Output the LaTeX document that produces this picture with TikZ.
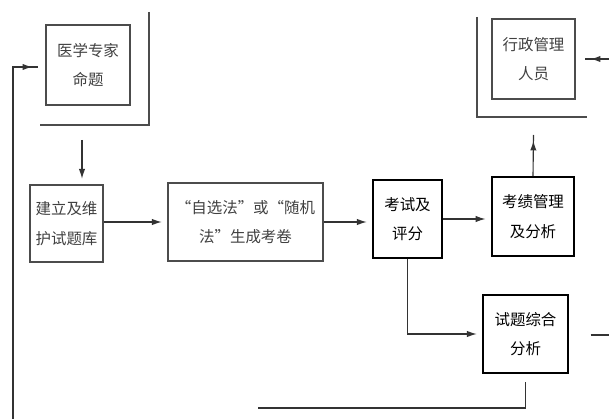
\documentclass[tikz,border=0pt]{standalone}
\usepackage{fontspec}
\newfontfamily\cjk{Noto Sans CJK SC}
\usetikzlibrary{arrows.meta,decorations.markings}
\tikzset{
myBox/.style={
	rectangle,draw=black!70,thick,
	inner sep=0pt,align=center,text=black!75,
	font=\cjk\fontsize{11}{21}\selectfont
}
, myDarkBox/.style={
	myBox,draw=black,very thick,text=black
}
, myFrame/.style={draw=black!70,thick}
% link
, myLine/.style={draw=black!80,thick}
, myArrow/.style={myLine,postaction={decorate},
	decoration={markings,mark=at position -4pt with {\arrow{Latex[length=7pt,width=4.5pt]}}}
}
}
\begin{document}
\begin{tikzpicture}[x=0.025cm,y=-0.025cm]
	\useasboundingbox (0,0) rectangle (609,419);
	% nodes
	\node[myBox,minimum width=2.1cm,minimum height=2cm] (Expert) at (88,65) {医学专家\\命题};
	\node[myBox,minimum width=1.825cm,minimum height=1.925cm] (Bank) at (66.5,223.5) {建立及维\\护试题库};
	\node[myBox,minimum width=3.875cm,minimum height=1.95cm] (Gen) at (245.5,222) {“自选法”或“随机\\法”生成考卷};
	\node[myBox,draw=black,text=black,minimum width=1.725cm,minimum height=1.95cm] (Exam) at (407.5,219) {考试及\\评分};
	\node[myDarkBox,minimum width=2.05cm,minimum height=1.975cm] (Score) at (533,216.5) {考绩管理\\及分析};
	\node[myBox,minimum width=2.075cm,minimum height=2cm] (Admin) at (533.5,59) {行政管理\\人员};
	\node[myDarkBox,thick,minimum width=2.125cm,minimum height=1.95cm] (Ana) at (525.5,334) {试题综合\\分析};
	% frames
	\draw[myFrame] (149,12) -- (149,125) -- (40,125);
	\draw[myFrame] (477,17) -- (477,117) -- (587,117);
	% free ends
	\coordinate (DownTop) at (82,140);
	\coordinate (LoopTop) at (13,67);
	\coordinate (LoopLow) at (13,419);
	\coordinate (BotEnd) at (258,408);
	\coordinate (RightIn) at (609,59);
	\coordinate (RightOut) at (609,335);
	% links
	\draw[myArrow,shorten >=10.6pt] (DownTop) -- (DownTop |- Bank.north);
	\draw[myArrow,shorten >=7pt] (Bank.east |- Gen.west) -- (Gen.west);
	\draw[myArrow,shorten >=8pt] (Gen.east) -- (Gen.east -| Exam.west);
	\draw[myArrow,shorten >=6.4pt] (Exam.east) -- (Exam.east -| Score.west);
	\draw[myArrow] (Score.north) -- (Admin.south |- 0,135);
	\draw[myArrow] (RightIn) -- (585,59);
	\draw[myArrow,shorten >=9pt] (Exam.south) |- (Ana.west);
	\draw[myLine,shorten <=15.6pt] (Ana.east |- RightOut) -- (RightOut);
	\draw[myLine] (Ana.south |- 0,382) -- (Ana.south |- BotEnd) -- (BotEnd);
	\draw[myArrow] (LoopLow) -- (LoopTop) -- (38,67);
\end{tikzpicture}
\end{document}
